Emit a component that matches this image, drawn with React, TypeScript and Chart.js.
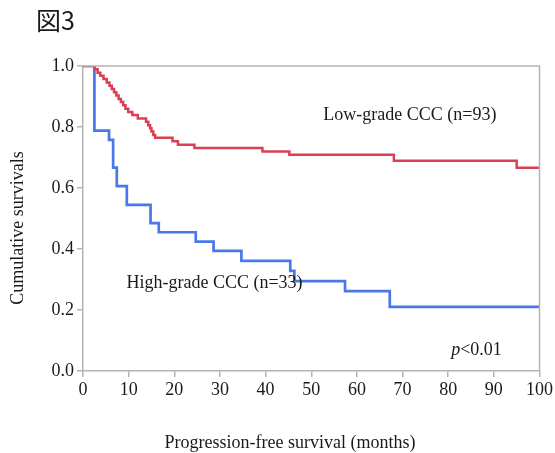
import React, { useEffect, useRef } from "react";
import { Chart, registerables } from "chart.js";

Chart.register(...registerables);

// Kaplan-Meier step data (month, survival after event)
const lowTimes = [0, 2.6, 3.2, 3.8, 4.5, 5.2, 5.8, 6.3, 6.8, 7.3, 7.8, 8.3, 8.8, 9.3, 9.9, 10.8, 12.0, 13.8, 14.3, 14.7, 15.0, 15.4, 15.8, 19.6, 20.8, 24.4, 39.3, 45.2, 68.1, 95.0, 100];
const lowSurv = [1.0, 0.989, 0.978, 0.968, 0.957, 0.946, 0.935, 0.925, 0.914, 0.903, 0.892, 0.882, 0.871, 0.86, 0.849, 0.839, 0.828, 0.817, 0.806, 0.796, 0.785, 0.774, 0.765, 0.753, 0.742, 0.731, 0.72, 0.709, 0.689, 0.666, 0.666];

const highTimes = [0, 2.5, 5.7, 6.6, 7.4, 9.6, 14.8, 16.6, 24.7, 28.6, 34.7, 45.4, 46.3, 57.4, 67.2, 100];
const highSurv = [1.0, 0.788, 0.758, 0.667, 0.606, 0.545, 0.485, 0.455, 0.424, 0.394, 0.361, 0.328, 0.295, 0.262, 0.21, 0.21];

const xTicks = [0, 10, 20, 30, 40, 50, 60, 70, 80, 90, 100];
const yTicks = [0, 0.2, 0.4, 0.6, 0.8, 1.0];

const figureTitle = "図3";
const xTitle = "Progression-free survival (months)";
const yTitle = "Cumulative survivals";
const lowLabel = "Low-grade CCC (n=93)";
const highLabel = "High-grade CCC (n=33)";

const SERIF = '"Liberation Serif", "Times New Roman", serif';
const AXIS_COLOR = "#b4b4b4";
const FS = 18;

export default function App() {
  const ref = useRef<HTMLCanvasElement | null>(null);

  useEffect(() => {
    if (!ref.current) return;

    const textPlugin = {
      id: "texts",
      afterDraw(chart: any) {
        const { ctx, chartArea, scales } = chart;
        const xs = scales.x;
        const ys = scales.y;
        ctx.save();
        // box top/right
        ctx.strokeStyle = AXIS_COLOR;
        ctx.lineWidth = 1.5;
        ctx.beginPath();
        ctx.moveTo(chartArea.left, chartArea.top);
        ctx.lineTo(chartArea.right, chartArea.top);
        ctx.lineTo(chartArea.right, chartArea.bottom);
        ctx.stroke();

        ctx.fillStyle = "#1a1a1a";
        // Figure label
        ctx.font = '25px "Noto Sans CJK JP"';
        ctx.textAlign = "left";
        ctx.textBaseline = "middle";
        ctx.fillText(figureTitle, 36, 20);

        // x title
        ctx.font = `${FS}px ${SERIF}`;
        ctx.textAlign = "center";
        ctx.fillText(xTitle, 290, 443);

        // y title
        ctx.save();
        ctx.translate(18, 228);
        ctx.rotate(-Math.PI / 2);
        ctx.fillText(yTitle, 0, 0);
        ctx.restore();

        // annotations
        ctx.textAlign = "center";
        ctx.fillText(lowLabel, xs.getPixelForValue(71.6), ys.getPixelForValue(0.839));
        ctx.fillText(highLabel, xs.getPixelForValue(28.8), ys.getPixelForValue(0.289));

        // p<0.01
        const px = xs.getPixelForValue(86.2);
        const py = ys.getPixelForValue(0.069);
        ctx.font = `italic ${FS}px ${SERIF}`;
        const pw = ctx.measureText("p").width;
        ctx.font = `${FS}px ${SERIF}`;
        const rw = ctx.measureText("<0.01").width;
        const start = px - (pw + rw) / 2;
        ctx.textAlign = "left";
        ctx.font = `italic ${FS}px ${SERIF}`;
        ctx.fillText("p", start, py);
        ctx.font = `${FS}px ${SERIF}`;
        ctx.fillText("<0.01", start + pw, py);
        ctx.restore();
      },
    };

    const chart = new Chart(ref.current, {
      type: "line",
      data: {
        datasets: [
          {
            label: lowLabel,
            data: lowTimes.map((t, i) => ({ x: t, y: lowSurv[i] })),
            borderColor: "rgb(218, 64, 84)",
            borderWidth: 2.5,
            stepped: "before",
            pointRadius: 0,
            fill: false,
          },
          {
            label: highLabel,
            data: highTimes.map((t, i) => ({ x: t, y: highSurv[i] })),
            borderColor: "rgba(58, 108, 230, 0.92)",
            borderWidth: 2.7,
            stepped: "before",
            pointRadius: 0,
            fill: false,
          },
        ],
      },
      options: {
        responsive: false,
        animation: false,
        layout: { padding: { left: 0, top: 66, right: 14, bottom: 0 } },
        plugins: {
          legend: { display: false },
          tooltip: { enabled: false },
          title: { display: false },
        },
        scales: {
          x: {
            type: "linear",
            min: 0,
            max: 100,
            afterBuildTicks: (scale: any) => {
              scale.ticks = xTicks.map((v) => ({ value: v }));
            },
            ticks: {
              font: { family: SERIF, size: FS },
              color: "#1a1a1a",
              padding: 2,
              maxRotation: 0,
              autoSkip: false,
            },
            grid: { drawOnChartArea: false, drawTicks: true, tickLength: 6, color: AXIS_COLOR, lineWidth: 1.5 },
            border: { color: AXIS_COLOR, width: 1.5 },
            afterFit: (scale: any) => {
              scale.height = 82;
            },
          },
          y: {
            type: "linear",
            min: 0,
            max: 1,
            afterBuildTicks: (scale: any) => {
              scale.ticks = yTicks.map((v) => ({ value: v }));
            },
            ticks: {
              font: { family: SERIF, size: FS },
              color: "#1a1a1a",
              padding: 3,
              callback: (v: any) => Number(v).toFixed(1),
            },
            grid: { drawOnChartArea: false, drawTicks: true, tickLength: 6, color: AXIS_COLOR, lineWidth: 1.5 },
            border: { color: AXIS_COLOR, width: 1.5 },
            afterFit: (scale: any) => {
              scale.width = 83;
            },
          },
        },
      },
      plugins: [textPlugin],
    });

    return () => chart.destroy();
  }, []);

  return (
    <div style={{ position: "absolute", left: 0, top: 0, width: 555, height: 453, background: "#fff" }}>
      <canvas ref={ref} width={555} height={453} style={{ width: 555, height: 453 }} />
    </div>
  );
}
